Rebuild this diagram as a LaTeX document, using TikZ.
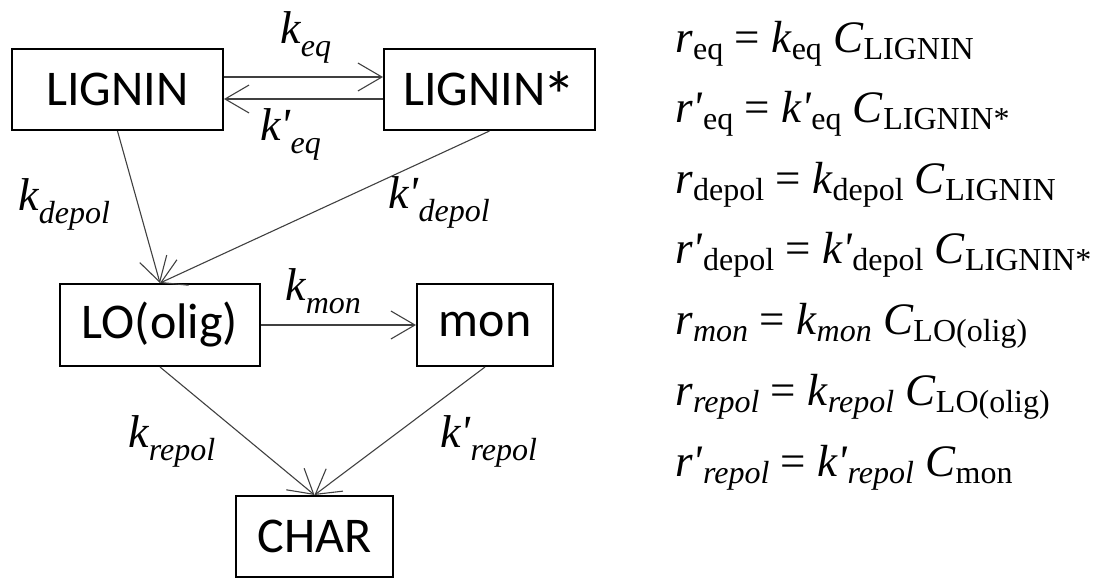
\documentclass[tikz,border=0pt]{standalone}
\usepackage{graphicx}
\usepackage{fontspec}
\setmainfont{Liberation Serif}
\newfontfamily\boxfont{Carlito}
\usetikzlibrary{arrows.meta}
\definecolor{conncol}{HTML}{404040}
\newcommand{\lsub}[1]{\raisebox{-6.5pt}{\fontsize{16}{16}\selectfont\itshape #1}}
\newcommand{\esub}[1]{\raisebox{-3.5pt}{\fontsize{16}{16}\selectfont #1}}
\newcommand{\eisub}[1]{\raisebox{-3.5pt}{\fontsize{16}{16}\selectfont\itshape #1}}
\newcommand{\pr}{\textquotesingle}
\newcommand{\bigast}{\kern-1.5pt\smash{\raisebox{-7pt}{\scalebox{1.35}{*}}}}
\begin{document}
\begin{tikzpicture}[x=0.5pt,y=-0.5pt,
  box/.style={draw=black, line width=1pt, inner sep=0pt,
    font=\boxfont\fontsize{25}{25}\selectfont},
  conn/.style={draw=conncol, line width=0.55pt, -{Straight Barb[length=12pt,width=14pt]}},
  klabel/.style={anchor=base west, inner sep=0pt, font=\fontsize{23}{23}\selectfont\itshape},
  eqline/.style={anchor=base west, inner sep=0pt, font=\fontsize{22.5}{22.5}\selectfont}]
\path[use as bounding box] (0,0) rectangle (1093,579);
% boxes
\node[box, minimum width=105.5pt, minimum height=40.5pt] (L)  at (117.5,89.5) {LIGNIN};
\node[box, minimum width=105.5pt, minimum height=40.5pt] (Ls) at (489.5,89.5) {LIGNIN\bigast};
\node[box, minimum width=100pt, minimum height=41pt] (LO) at (160,325) {LO(olig)};
\node[box, minimum width=68pt, minimum height=41pt] (M) at (485,325) {mon};
\node[box, minimum width=78.5pt, minimum height=40.5pt] (C) at (314.5,536.5) {CHAR};
% connectors
\draw[conn] ([yshift=6.25pt]L.east) -- ([yshift=6.25pt]Ls.west);
\draw[conn] ([yshift=-4.75pt]Ls.west) -- ([yshift=-4.75pt]L.east);
\draw[conn] (L.south) -- (LO.north);
\draw[conn] (Ls.south) -- (LO.north);
\draw[conn] (LO.east) -- (M.west);
\draw[conn] (LO.south) -- (C.north);
\draw[conn] (M.south) -- (C.north);
% labels
\node[klabel] (keq) at (280,43) {k\lsub{eq}};
\node[klabel] (kpeq) at (260,140) {k\pr\lsub{eq}};
\node[klabel] (kdepol) at (18,210) {k\lsub{depol}};
\node[klabel] (kpdepol) at (388,208) {k\pr\lsub{depol}};
\node[klabel] (kmon) at (285,300) {k\lsub{mon}};
\node[klabel] (krepol) at (128,447) {k\lsub{repol}};
\node[klabel] (kprepol) at (440,447) {k\pr\lsub{repol}};
% equations
\node[eqline] (e1) at (675,52)  {\textit{r}\esub{eq} = \textit{k}\esub{eq} \textit{C}\esub{LIGNIN}};
\node[eqline] (e2) at (675,122) {\textit{r\pr}\esub{eq} = \textit{k\pr}\esub{eq} \textit{C}\esub{LIGNIN*}};
\node[eqline] (e3) at (675,193) {\textit{r}\esub{depol} = \textit{k}\esub{depol} \textit{C}\esub{LIGNIN}};
\node[eqline] (e4) at (675,263) {\textit{r\pr}\esub{depol} = \textit{k\pr}\esub{depol} \textit{C}\esub{LIGNIN*}};
\node[eqline] (e5) at (675,334) {\textit{r}\eisub{mon} = \textit{k}\eisub{mon} \textit{C}\esub{LO(olig)}};
\node[eqline] (e6) at (675,405) {\textit{r}\eisub{repol} = \textit{k}\eisub{repol} \textit{C}\esub{LO(olig)}};
\node[eqline] (e7) at (675,476) {\textit{r\pr}\eisub{repol} = \textit{k\pr}\eisub{repol} \textit{C}\esub{mon}};
\end{tikzpicture}
\end{document}
